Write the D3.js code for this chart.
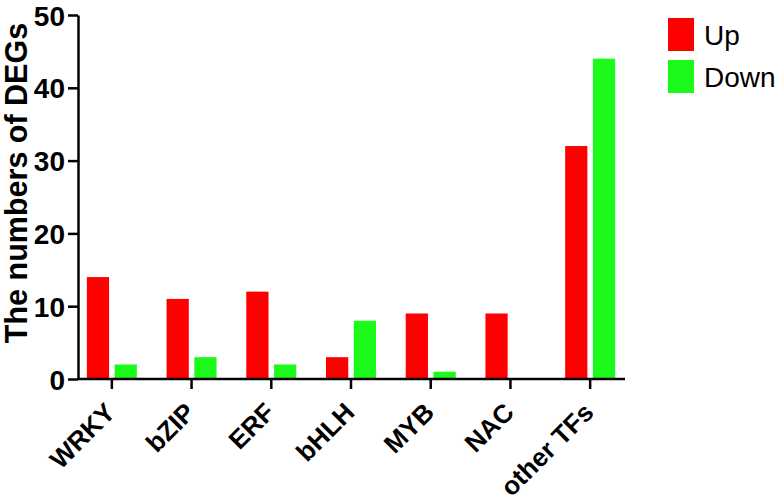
<!DOCTYPE html>
<html>
<head>
<meta charset="utf-8">
<script src="https://cdn.jsdelivr.net/npm/d3@7"></script>
<style>
    body { margin: 0; background: #fff; }
    text { font-family: Arial, "Liberation Sans", sans-serif; }
</style>
</head>
<body>
<div id="chart"></div>
<script>
const categories = ['WRKY', 'bZIP', 'ERF', 'bHLH', 'MYB', 'NAC', 'other TFs'];
const upValues = [14, 11, 12, 3, 9, 9, 32];
const downValues = [2, 3, 2, 8, 1, 0, 44];
const seriesNames = ['Up', 'Down'];
const seriesColors = ['#ff0000', '#1cfa1c'];
const yTicks = [0, 10, 20, 30, 40, 50];

let width = 779;
let height = 502;

let svg = d3.select('#chart').append('svg')
    .attr('width', width)
    .attr('height', height);

let xScale = d3.scaleBand()
    .domain(categories)
    .range([72, 630]);

let inner = d3.scaleBand()
    .domain(seriesNames)
    .range([-25, 25])
    .paddingInner(0.2);

let yScale = d3.scaleLinear()
    .domain([0, 50])
    .range([379, 15]);

// bars
let groups = svg.selectAll('g.group').data(categories).enter().append('g')
    .attr('class', 'group')
    .attr('transform', d => 'translate(' + (xScale(d) + xScale.bandwidth() / 2) + ',0)');

groups.selectAll('rect')
    .data((d, i) => [upValues[i], downValues[i]].map((v, j) => ({ name: seriesNames[j], value: v })))
    .enter().append('rect')
    .attr('x', d => inner(d.name))
    .attr('width', inner.bandwidth())
    .attr('y', d => yScale(d.value))
    .attr('height', d => yScale(0) - yScale(d.value))
    .attr('fill', (d, j) => seriesColors[j]);

// y axis
let yAxis = svg.append('g')
    .attr('transform', 'translate(78,0)')
    .call(d3.axisLeft(yScale).tickValues(yTicks).tickSize(10).tickPadding(3).tickSizeOuter(0));
yAxis.selectAll('text')
    .attr('font-size', 28)
    .attr('font-weight', 'bold')
    .attr('fill', '#000')
    .attr('dy', '0.36em');

// x axis
let xAxis = svg.append('g')
    .attr('transform', 'translate(0,379)')
    .call(d3.axisBottom(xScale).tickSize(10).tickSizeOuter(0).tickFormat(''));
xAxis.select('.domain').attr('d', 'M78,0H625');

xAxis.selectAll('.tick').append('text')
    .attr('font-size', 26)
    .attr('font-weight', 'bold')
    .attr('fill', '#000')
    .attr('text-anchor', 'end')
    .attr('transform', 'translate(5,35) rotate(-45)')
    .text(d => d);

svg.selectAll('.domain, .tick line')
    .attr('stroke', '#000')
    .attr('stroke-width', 2.5);

// y axis title
svg.append('text')
    .attr('transform', 'translate(27,183) rotate(-90)')
    .attr('text-anchor', 'middle')
    .attr('font-size', 30.5)
    .attr('font-weight', 'bold')
    .text('The numbers of DEGs');

// legend
let legend = svg.selectAll('g.legend').data(seriesNames).enter().append('g')
    .attr('class', 'legend')
    .attr('transform', (d, i) => 'translate(668,' + (18 + i * 42) + ')');

legend.append('rect')
    .attr('width', 26)
    .attr('height', 33)
    .attr('fill', (d, i) => seriesColors[i]);

legend.append('text')
    .attr('x', 36)
    .attr('y', 17)
    .attr('dy', '0.36em')
    .attr('font-size', 28)
    .text(d => d);
</script>
</body>
</html>
